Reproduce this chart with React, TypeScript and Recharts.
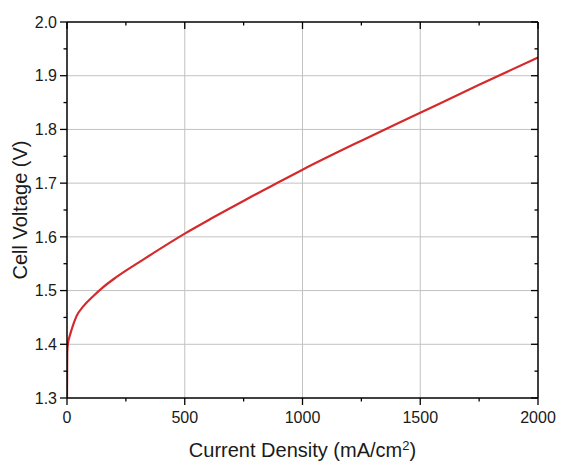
import React from 'react';
import { LineChart, Line, XAxis, YAxis, CartesianGrid } from 'recharts';

const currentDensity = [0, 1, 4, 10, 20, 40, 70, 110, 150, 200, 250, 300, 400, 500, 600, 700, 800, 900, 1000, 1250, 1500, 1750, 2000];
const cellVoltage = [1.3, 1.385, 1.401, 1.413, 1.428, 1.452, 1.471, 1.489, 1.505, 1.522, 1.537, 1.551, 1.579, 1.606, 1.631, 1.655, 1.679, 1.702, 1.725, 1.779, 1.831, 1.883, 1.934];

const xMajorTicks = [0, 500, 1000, 1500, 2000];
const xMinorTicks = [250, 750, 1250, 1750];
const yMajorTicks = [1.3, 1.4, 1.5, 1.6, 1.7, 1.8, 1.9, 2.0];
const yMinorTicks = [1.35, 1.45, 1.55, 1.65, 1.75, 1.85, 1.95];
const xGridValues = [500, 1000, 1500];
const yGridValues = [1.4, 1.5, 1.6, 1.7, 1.8, 1.9];

const data = currentDensity.map((x, i) => ({ x, v: cellVoltage[i] }));

const xTicks = [...xMajorTicks, ...xMinorTicks].sort((a, b) => a - b);
const yTicks = [...yMajorTicks, ...yMinorTicks].sort((a, b) => a - b);

const FONT = 'Liberation Sans, Arial, sans-serif';
const TEXT = '#1a1a1a';
const MAJOR = 7;
const MINOR = 3.5;

const isIn = (arr: number[], v: number) => arr.some((m) => Math.abs(m - v) < 1e-9);

const makeTick = (side: 'left' | 'right' | 'top' | 'bottom', majors: number[], showLabel: boolean, fmt: (v: number) => string) =>
  (props: any) => {
    const { x, y, payload } = props;
    const v = Number(payload.value);
    const major = isIn(majors, v);
    const len = major ? MAJOR : MINOR;
    let line;
    if (side === 'left') line = <line x1={x - len} y1={y} x2={x} y2={y} />;
    else if (side === 'right') line = <line x1={x - len} y1={y} x2={x} y2={y} />;
    else if (side === 'top') line = <line x1={x} y1={y} x2={x} y2={y + len} />;
    else line = <line x1={x} y1={y} x2={x} y2={y + len} />;
    let label = null;
    if (showLabel && major) {
      if (side === 'left')
        label = (
          <text x={x - MAJOR - 3} y={y} dy="0.355em" textAnchor="end" fontSize={16} fontFamily={FONT} fill={TEXT} stroke="none">
            {fmt(v)}
          </text>
        );
      else
        label = (
          <text x={x} y={y + 25} textAnchor="middle" fontSize={16} fontFamily={FONT} fill={TEXT} stroke="none">
            {fmt(v)}
          </text>
        );
    }
    return (
      <g>
        <g stroke="#000" strokeWidth={1.3}>{line}</g>
        {label}
      </g>
    );
  };

const xTitle = (props: any) => {
  const vb = props.viewBox;
  return (
    <text x={vb.x + vb.width / 2} y={vb.y + vb.height - 11} textAnchor="middle" fontSize={20} fontFamily={FONT} fill={TEXT}>
      Current Density (mA/cm
      <tspan dy={-7} fontSize={13}>2</tspan>
      <tspan dy={7}>)</tspan>
    </text>
  );
};

const yTitle = (props: any) => {
  const vb = props.viewBox;
  const cx = vb.x + 12;
  const cy = vb.y + vb.height / 2;
  return (
    <text x={cx} y={cy} dy="0.355em" transform={`rotate(-90 ${cx} ${cy})`} textAnchor="middle" fontSize={20} fontFamily={FONT} fill={TEXT}>
      Cell Voltage (V)
    </text>
  );
};

const fmtX = (v: number) => String(v);
const fmtY = (v: number) => v.toFixed(1);
const axisLineStyle = { stroke: '#000', strokeWidth: 1.5 };

export default function App() {
  return (
    <div style={{ width: 575, height: 460, background: '#fff' }}>
      <LineChart width={575} height={460} data={data} margin={{ top: 13, right: 44, bottom: 0, left: 0 }}>
        <CartesianGrid
          horizontal
          vertical
          horizontalValues={yGridValues}
          verticalValues={xGridValues}
          stroke="#c2c2c2"
          strokeWidth={1}
        />
        <XAxis
          dataKey="x"
          type="number"
          domain={[0, 2000]}
          ticks={xTicks}
          interval={0}
          tickSize={0}
          tickMargin={0}
          tickLine={false}
          axisLine={axisLineStyle}
          height={70}
          tick={makeTick('bottom', xMajorTicks, true, fmtX)}
          label={xTitle}
          allowDataOverflow
        />
        <XAxis
          xAxisId="top"
          orientation="top"
          dataKey="x"
          type="number"
          domain={[0, 2000]}
          ticks={xTicks}
          interval={0}
          tickSize={0}
          tickMargin={0}
          tickLine={false}
          axisLine={axisLineStyle}
          height={1}
          tick={makeTick('top', xMajorTicks, false, fmtX)}
          allowDataOverflow
        />
        <YAxis
          type="number"
          domain={[1.3, 2.0]}
          ticks={yTicks}
          interval={0}
          tickSize={0}
          tickMargin={0}
          tickLine={false}
          axisLine={axisLineStyle}
          width={59}
          tick={makeTick('left', yMajorTicks, true, fmtY)}
          label={yTitle}
          allowDataOverflow
        />
        <YAxis
          yAxisId="right"
          orientation="right"
          type="number"
          domain={[1.3, 2.0]}
          ticks={yTicks}
          interval={0}
          tickSize={0}
          tickMargin={0}
          tickLine={false}
          axisLine={axisLineStyle}
          width={1}
          tick={makeTick('right', yMajorTicks, false, fmtY)}
          allowDataOverflow
        />
        <Line
          type="monotone"
          dataKey="v"
          stroke="#d42a2c"
          strokeWidth={2.2}
          dot={false}
          activeDot={false}
          isAnimationActive={false}
        />
      </LineChart>
    </div>
  );
}
